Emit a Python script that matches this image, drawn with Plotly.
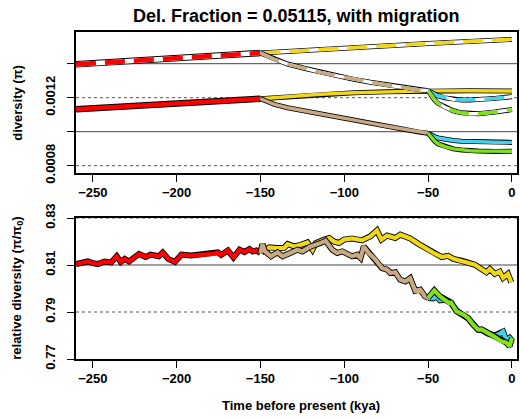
import plotly.graph_objects as go

# ---------------- data ----------------
# absolute diversity (pi) over time (kya)
red_dash_t = [-260, -230, -200, -175, -150]
red_dash_v = [0.001396, 0.001413, 0.001430, 0.001446, 0.001463]
red_solid_t = [-260, -200, -150]
red_solid_v = [0.001132, 0.001164, 0.001194]

yellow_dash_t = [-150, -100, -50, 0]
yellow_dash_v = [0.001463, 0.001493, 0.001519, 0.001543]
yellow_solid_t = [-150, -133.8, -114, -94.3, -74.5, -54.7, -50, -25, 0]
yellow_solid_v = [0.001194, 0.001206, 0.00122, 0.001229, 0.001235, 0.001239, 0.00124, 0.001241, 0.001239]

brown_t = [-150, -141.7, -133.8, -124, -114, -104.2, -94.3, -84.4, -74.5, -64.6, -54.7, -50]
brown_dash_v = [0.001463, 0.001426, 0.001398, 0.001373, 0.001349, 0.001328, 0.001308,
                0.001291, 0.001275, 0.001259, 0.001245, 0.001241]
brown_solid_v = [0.001194, 0.001161, 0.001141, 0.001122, 0.001104, 0.001088, 0.001069,
                 0.00105, 0.001032, 0.001014, 0.000996, 0.000991]

branch_t = [-50, -48, -46, -44, -40, -35, -30, -25, -20, -10, 0]
cyan_dash_v = [0.001241, 0.001228, 0.001219, 0.00121, 0.001199, 0.00119, 0.001187, 0.001187, 0.001189, 0.001196, 0.001206]
green_dash_v = [0.001241, 0.00121, 0.001185, 0.001166, 0.001144, 0.001123, 0.001111, 0.001106, 0.001106, 0.001116, 0.00113]
cyan_solid_v = [0.000991, 0.000978, 0.00097, 0.000963, 0.000955, 0.000948, 0.000944, 0.000942, 0.00094, 0.000938, 0.000937]
green_solid_v = [0.000991, 0.000963, 0.000943, 0.000928, 0.000912, 0.000899, 0.000892, 0.000888, 0.000886, 0.000884, 0.000885]

# relative diversity (pi / pi0)
rel_red_t = [-260, -256, -253, -250, -247, -243, -239, -235.7, -233.3, -230.9, -228.3, -222.4,
             -218.5, -215.5, -210.6, -208.3, -205, -201, -197.1, -191.2, -184.3, -178.3,
             -175.4, -173.4, -169.4, -166.1, -162.5, -159.5, -156.6, -154.6, -152.5, -150]
rel_red_v = [0.8104, 0.8110, 0.8115, 0.8108, 0.8104, 0.8115, 0.8111, 0.8137, 0.8113, 0.8126,
             0.8115, 0.8147, 0.8134, 0.8144, 0.8137, 0.8153, 0.8126, 0.8113, 0.8144, 0.8140,
             0.8145, 0.8147, 0.8154, 0.8143, 0.8162, 0.8132, 0.8165, 0.8155, 0.8168, 0.8158,
             0.8162, 0.8151]

rel_yellow_t = [-150, -148.8, -147.5, -144.7, -140, -135.8, -133.8, -129.9, -125.9, -122, -119,
                -117, -112, -109, -106.2, -103.2, -100.2, -95.3, -89.4, -84.4, -80.5, -77.9,
                -74.5, -69.6, -66.6, -60.7, -55.8, -51.8, -45.9, -41.9, -38, -35, -30, -22.1,
                -19.2, -15.2, -13.2, -10.3, -7.3, -5.3, -2.4, -0.4]
rel_yellow_v = [0.8151, 0.8188, 0.8162, 0.8175, 0.8172, 0.8173, 0.8189, 0.8179, 0.8186, 0.8196,
                0.8165, 0.8193, 0.8208, 0.8215, 0.8200, 0.8194, 0.8208, 0.8213, 0.8205, 0.8222,
                0.8247, 0.8208, 0.8225, 0.8215, 0.8229, 0.8213, 0.8190, 0.8172, 0.8148, 0.8134,
                0.8139, 0.8126, 0.8118, 0.8101, 0.8087, 0.8069, 0.8083, 0.8062, 0.8072, 0.8045,
                0.8062, 0.8026]

rel_brown_t = [-150, -148.8, -147.3, -143.7, -139.8, -136.8, -131.9, -127.9, -125, -120, -114,
               -111.1, -107.2, -104.2, -101.2, -95.3, -92.3, -90.3, -88.4, -85.4, -81.4, -77.5,
               -74.5, -72.5, -69.6, -66.6, -63.6, -60.7, -57.7, -54.7, -51.8, -50]
rel_brown_v = [0.8151, 0.8188, 0.8158, 0.8137, 0.8154, 0.8137, 0.8152, 0.8165, 0.8158, 0.8179,
               0.8194, 0.8203, 0.8165, 0.8151, 0.8158, 0.8137, 0.8144, 0.8130, 0.8179, 0.8151,
               0.8123, 0.8087, 0.8080, 0.8066, 0.8069, 0.8037, 0.8030, 0.8044, 0.7990, 0.7995,
               0.7966, 0.7960]

rel_cyan_t = [-50, -47, -45, -42.9, -40, -38, -36.3, -33, -29.1, -26.1, -23.1, -20.2, -18.2,
              -14.2, -10.3, -7.5, -5.3, -3.4, -1.4, 0]
rel_cyan_v = [0.7960, 0.7958, 0.7966, 0.7950, 0.7952, 0.7945, 0.7938, 0.7905, 0.7889, 0.7872,
              0.7848, 0.7825, 0.7824, 0.7808, 0.7800, 0.7806, 0.7817, 0.7780, 0.7790, 0.7778]

rel_green_t = [-50, -46.3, -42.9, -39.9, -37.5, -36.3, -33, -29.1, -26.1, -23.1, -20.2, -18.2,
               -14.2, -10.3, -6.3, -3.4, -1.4, 0]
rel_green_v = [0.7960, 0.7992, 0.7966, 0.7952, 0.7938, 0.7940, 0.7903, 0.7889, 0.7874, 0.7846,
               0.7825, 0.7826, 0.7811, 0.7794, 0.7775, 0.7770, 0.7754, 0.7790]

# reference levels
top_solid_levels = [0.0014, 0.0010]
top_dashed_levels = [0.0012, 0.0008]
bot_solid_levels = [0.81]
bot_dashed_levels = [0.79, 0.83]

x_ticks = [-250, -200, -150, -100, -50, 0]
top_label_ticks = [0.0008, 0.0012]
top_extra_ticks = [0.0010, 0.0014]
bot_ticks = [0.77, 0.79, 0.81, 0.83]

RED = "#ff0000"
YELLOW = "#f2d716"
BROWN = "#c9a981"
CYAN = "#45d0ee"
GREEN = "#7ee11c"

FONT = "Liberation Sans, Arial, Helvetica, sans-serif"

fig = go.Figure()


def outlined(t, v, color, yaxis, xaxis, dashed=False, w_out=5.0, w_in=3.4):
    """Coloured line with a thin black outline; dashed lines get a white core."""
    fig.add_trace(go.Scatter(x=t, y=v, mode="lines", xaxis=xaxis, yaxis=yaxis,
                             line=dict(color="black", width=w_out), hoverinfo="skip"))
    if dashed:
        fig.add_trace(go.Scatter(x=t, y=v, mode="lines", xaxis=xaxis, yaxis=yaxis,
                                 line=dict(color="white", width=w_in), hoverinfo="skip"))
        fig.add_trace(go.Scatter(x=t, y=v, mode="lines", xaxis=xaxis, yaxis=yaxis,
                                 line=dict(color=color, width=w_in, dash="20px,9px"),
                                 hoverinfo="skip"))
    else:
        fig.add_trace(go.Scatter(x=t, y=v, mode="lines", xaxis=xaxis, yaxis=yaxis,
                                 line=dict(color=color, width=w_in), hoverinfo="skip"))


# top panel
outlined(red_dash_t, red_dash_v, RED, "y", "x", dashed=True, w_out=6.5, w_in=4.6)
outlined(red_solid_t, red_solid_v, RED, "y", "x", w_out=6.5, w_in=4.6)
outlined(yellow_dash_t, yellow_dash_v, YELLOW, "y", "x", dashed=True)
outlined(yellow_solid_t, yellow_solid_v, YELLOW, "y", "x")
outlined(brown_t, brown_dash_v, BROWN, "y", "x", dashed=True)
outlined(brown_t, brown_solid_v, BROWN, "y", "x")
outlined(branch_t, cyan_dash_v, CYAN, "y", "x", dashed=True)
outlined(branch_t, green_dash_v, GREEN, "y", "x", dashed=True)
outlined(branch_t, cyan_solid_v, CYAN, "y", "x")
outlined(branch_t, green_solid_v, GREEN, "y", "x")

# bottom panel
outlined(rel_red_t, rel_red_v, RED, "y2", "x2", w_out=6.0, w_in=4.2)
outlined(rel_yellow_t, rel_yellow_v, YELLOW, "y2", "x2", w_out=6.0, w_in=4.2)
outlined(rel_brown_t, rel_brown_v, BROWN, "y2", "x2", w_out=6.0, w_in=4.2)
outlined(rel_cyan_t, rel_cyan_v, CYAN, "y2", "x2", w_out=6.0, w_in=4.2)
outlined(rel_green_t, rel_green_v, GREEN, "y2", "x2", w_out=6.0, w_in=4.2)

shapes = []
for lv in top_solid_levels:
    shapes.append(dict(type="line", xref="x domain", yref="y", x0=0, x1=1, y0=lv, y1=lv,
                       line=dict(color="#444444", width=1), layer="below"))
for lv in top_dashed_levels:
    shapes.append(dict(type="line", xref="x domain", yref="y", x0=0, x1=1, y0=lv, y1=lv,
                       line=dict(color="#555555", width=1, dash="3px,3px"), layer="below"))
for lv in bot_solid_levels:
    shapes.append(dict(type="line", xref="x2 domain", yref="y2", x0=0, x1=1, y0=lv, y1=lv,
                       line=dict(color="#444444", width=1), layer="below"))
for lv in bot_dashed_levels:
    shapes.append(dict(type="line", xref="x2 domain", yref="y2", x0=0, x1=1, y0=lv, y1=lv,
                       line=dict(color="#555555", width=1, dash="3px,3px"), layer="below"))

tick_font = dict(family=FONT, size=13, color="black", weight="bold")

axis_common = dict(showline=True, mirror=True, linecolor="black", linewidth=1.5,
                   ticks="outside", ticklen=7, tickwidth=1, tickcolor="black",
                   showgrid=False, zeroline=False, tickfont=tick_font)

H_TOP = 141 / 327

fig.update_layout(
    width=520, height=419,
    margin=dict(l=76, r=1, t=32, b=60),
    paper_bgcolor="white", plot_bgcolor="white",
    showlegend=False,
    xaxis=dict(range=[-260, 3], tickvals=x_ticks, anchor="y", **axis_common),
    yaxis=dict(range=[0.000757, 0.0015865], domain=[1 - H_TOP, 1], tickvals=top_label_ticks,
               ticktext=["0.0008", "0.0012"], tickangle=-90, anchor="x",
               ticklabelstandoff=7,
               minor=dict(tickvals=top_extra_ticks, ticks="outside", ticklen=7,
                          tickwidth=1, tickcolor="black", showgrid=False),
               **axis_common),
    xaxis2=dict(range=[-260, 3], tickvals=x_ticks, anchor="y2", **axis_common),
    yaxis2=dict(range=[0.77, 0.83], domain=[0, H_TOP], tickvals=bot_ticks,
                ticktext=["0.77", "0.79", "0.81", "0.83"], tickangle=-90, anchor="x2",
                ticklabelstandoff=7, **axis_common),
    shapes=shapes,
    annotations=[
        dict(text="Del. Fraction = 0.05115, with migration", xref="paper", yref="paper",
             x=0.5, y=1 + 16 / 327, xanchor="center", yanchor="middle", showarrow=False,
             font=dict(family=FONT, size=18, color="black", weight="bold")),
        dict(text="diversity (π)", xref="paper", yref="paper", x=(17 - 76) / 443,
             y=1 - H_TOP / 2, textangle=-90, xanchor="center", yanchor="middle",
             showarrow=False, font=dict(family=FONT, size=13, color="black", weight="bold")),
        dict(text="relative diversity (π/π<sub>0</sub>)", xref="paper", yref="paper",
             x=(17 - 76) / 443, y=H_TOP / 2, textangle=-90, xanchor="center",
             yanchor="middle", showarrow=False,
             font=dict(family=FONT, size=13, color="black", weight="bold")),
        dict(text="Time before present (kya)", xref="paper", yref="paper", x=0.51,
             y=(359 - 405) / 327, xanchor="center", yanchor="middle", showarrow=False,
             font=dict(family=FONT, size=13, color="black", weight="bold")),
    ],
)

fig.write_html("out.html")
